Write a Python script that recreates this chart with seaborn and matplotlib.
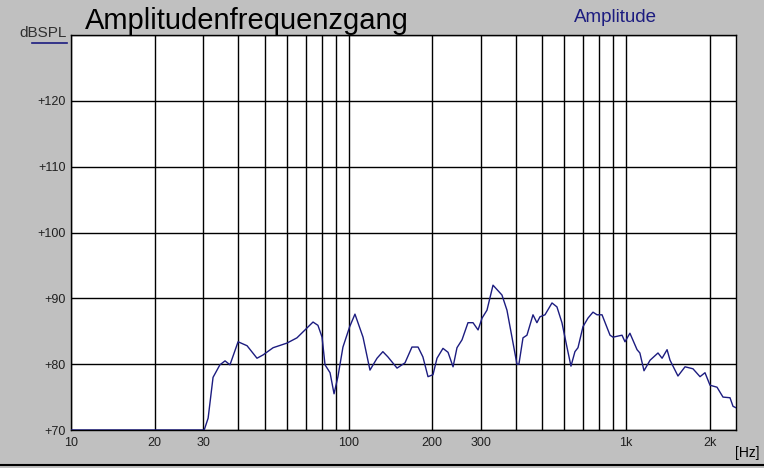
import matplotlib
matplotlib.use("Agg")
import matplotlib.pyplot as plt
import seaborn as sns
import numpy as np

# Frequenzgang
freq = [10, 30.2, 31.2, 32.5, 34.4, 35.9, 37.4, 40.0, 43.1, 46.8, 49.2, 53.5, 60.0,
        65.2, 69.7, 74.5, 77.6, 80.3, 82.3, 85.8, 88.7, 91.6, 95.5, 101, 105.5,
        112.8, 119.5, 126.7, 133, 138.7, 149.6, 159.8, 169.3, 178.1, 185.4, 193.4,
        201.6, 208.4, 219, 228.4, 238.1, 246, 256.5, 269.5, 281, 293, 302.9, 315.5,
        331.7, 357.3, 372.4, 388.2, 404.6, 411.2, 425.4, 439.6, 462.2, 477.5, 489.8,
        510.6, 541.1, 563.8, 587.7, 612.6, 633.4, 654.6, 671.4, 699.8, 729.5, 760.4,
        786.3, 819.6, 875.8, 897.6, 967.4, 991.7, 1033, 1096, 1122, 1161, 1221, 1304,
        1349, 1406, 1441, 1539, 1632, 1743, 1848, 1926, 2008, 2128, 2236, 2370, 2430,
        2512]
spl = [70, 70, 71.8, 78, 79.9, 80.5, 79.9, 83.4, 82.8, 80.9, 81.4, 82.5, 83.2,
       84, 85.2, 86.4, 85.9, 84.1, 79.9, 78.7, 75.5, 78.1, 82.6, 85.7, 87.6,
       84.1, 79.1, 80.9, 81.9, 81.1, 79.4, 80.2, 82.6, 82.6, 81.1, 78.1,
       78.4, 80.9, 82.4, 81.8, 79.6, 82.5, 83.7, 86.3, 86.3, 85.2, 87, 88.2,
       92, 90.5, 88.2, 84.1, 80, 80, 84, 84.4, 87.5, 86.3, 87.2,
       87.5, 89.3, 88.7, 86.3, 82.6, 79.7, 81.9, 82.5, 85.7, 87, 87.9,
       87.5, 87.5, 84.4, 84.1, 84.4, 83.4, 84.7, 82.2, 81.7, 79, 80.6, 81.7,
       80.9, 82.2, 80.6, 78.2, 79.6, 79.3, 78.1, 78.7, 76.8, 76.5, 75, 74.9, 73.6,
       73.3]

grid_x = [10, 20, 30, 40, 50, 60, 70, 80, 90, 100, 200, 300, 400, 500, 600, 700,
          800, 900, 1000, 2000]
x_labels = {10: "10", 20: "20", 30: "30", 100: "100", 200: "200", 300: "300",
            1000: "1k", 2000: "2k"}
y_ticks = [70, 80, 90, 100, 110, 120, 130]

grau = "#c0c0c0"
navy = "#1c1c80"

fig = plt.figure(figsize=(7.64, 4.68), dpi=100, facecolor=grau)
ax = fig.add_axes([71 / 764, 1 - 430 / 468, 665 / 764, 395 / 468])
ax.set_facecolor("white")

sns.lineplot(x=freq, y=spl, ax=ax, color=navy, linewidth=1.0, zorder=3)

ax.set_xscale("log")
ax.set_xlim(10, 2491)
ax.set_ylim(70, 130)

ax.minorticks_off()
ax.set_xticks(grid_x, labels=[x_labels.get(v, "") for v in grid_x])
ax.set_yticks(y_ticks, labels=["+%d" % v if v < 130 else "" for v in y_ticks])
ax.tick_params(length=0, labelsize=9, colors="#202020")
ax.tick_params(axis="x", pad=5)
ax.tick_params(axis="y", pad=4)
for lab in ax.get_xticklabels() + ax.get_yticklabels():
    lab.set_family(["Liberation Sans Narrow", "Liberation Sans", "DejaVu Sans"])
ax.grid(True, color="black", linewidth=1.0)
for s in ax.spines.values():
    s.set_color("black")
    s.set_linewidth(1.0)
ax.set_xlabel("")
ax.set_ylabel("")

fig.text(85 / 764, 1 - 21 / 468, "Amplitudenfrequenzgang", fontsize=21,
         family=["Liberation Sans", "DejaVu Sans"], va="center", ha="left")
fig.text(615 / 764, 1 - 17 / 468, "Amplitude", fontsize=13.5, color=navy,
         family=["Liberation Sans", "DejaVu Sans"], va="center", ha="center")
fig.text(67 / 764, 1 - 33 / 468, "dBSPL", fontsize=11, color="#303030",
         family=["Liberation Sans", "DejaVu Sans"], va="center", ha="right")
fig.add_artist(plt.Line2D([32 / 764, 67 / 764], [1 - 43 / 468, 1 - 43 / 468],
                          color=navy, linewidth=1.2, transform=fig.transFigure))
fig.text(760 / 764, 1 - 453 / 468, "[Hz]", fontsize=10,
         family=["Liberation Sans Narrow", "Liberation Sans", "DejaVu Sans"],
         va="center", ha="right")
fig.add_artist(plt.Line2D([0, 1], [1 - 465 / 468, 1 - 465 / 468],
                          color="black", linewidth=1.5, transform=fig.transFigure))

fig.savefig("out.png", dpi=100, facecolor=grau)
